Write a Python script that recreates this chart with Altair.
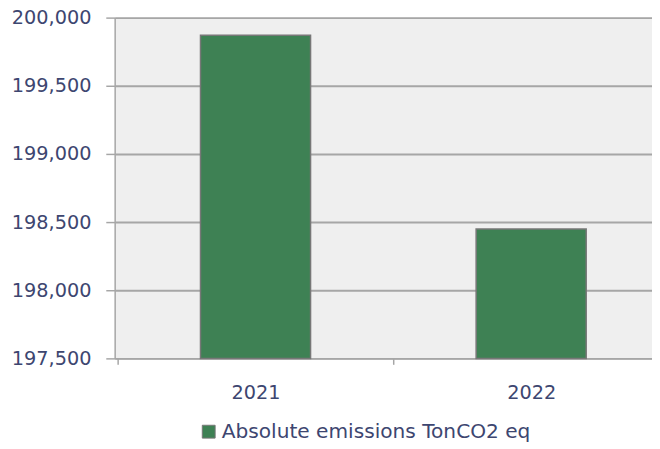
import altair as alt
import pandas as pd

years = ["2021", "2022"]
emissions = [199870, 198450]
series_name = "Absolute emissions TonCO2 eq"
y_ticks = [197500, 198000, 198500, 199000, 199500, 200000]

df = pd.DataFrame({"year": years, "value": emissions, "series": [series_name] * len(years)})

TEXT = "#3d4670"
GRID = "#a6a6a6"
BAR = "#3e8154"
FONT = "DejaVu Sans"

bars = alt.Chart(df).mark_bar(stroke="#777777", strokeWidth=1.5).encode(
    x=alt.X(
        "year:N",
        sort=years,
        scale=alt.Scale(paddingInner=0.6007, paddingOuter=0.275, align=0.566),
        axis=alt.Axis(
            title=None, labelAngle=0, tickBand="center", tickOffset=-139.5, labelOffset=139.5, grid=False,
            domainColor=GRID, domainWidth=1.5, tickColor=GRID, tickWidth=1.5, tickSize=6,
            labelFont=FONT, labelFontSize=19.5, labelColor=TEXT, labelPadding=20,
        ),
    ),
    y=alt.Y(
        "value:Q",
        scale=alt.Scale(domain=[y_ticks[0], y_ticks[-1]], zero=False, nice=False),
        axis=alt.Axis(
            title=None, values=y_ticks, format=",d", grid=True, gridColor=GRID, gridWidth=2,
            domainColor=GRID, domainWidth=1.5, tickColor=GRID, tickWidth=1.5, tickSize=9,
            labelFont=FONT, labelFontSize=19.5, labelColor=TEXT, labelPadding=15,
        ),
    ),
    y2=alt.datum(y_ticks[0]),
    color=alt.Color(
        "series:N",
        scale=alt.Scale(domain=[series_name], range=[BAR]),
        legend=alt.Legend(
            title=None, orient="none", legendX=85, legendY=409, padding=0,
            symbolType="square", symbolSize=169, symbolStrokeColor="#777777", symbolStrokeWidth=1,
            labelFont=FONT, labelFontSize=20.4, labelColor=TEXT, labelOffset=3, labelLimit=0,
        ),
    ),
)

chart = bars.properties(
    width=544, height=345,
    autosize=alt.AutoSizeParams(type="none"),
    padding={"left": 108, "top": 7, "right": 0, "bottom": 89},
    background="white",
).configure_view(fill="#efefef", stroke=None)

chart.save("out.html", embed_options={"renderer": "svg", "actions": False})
